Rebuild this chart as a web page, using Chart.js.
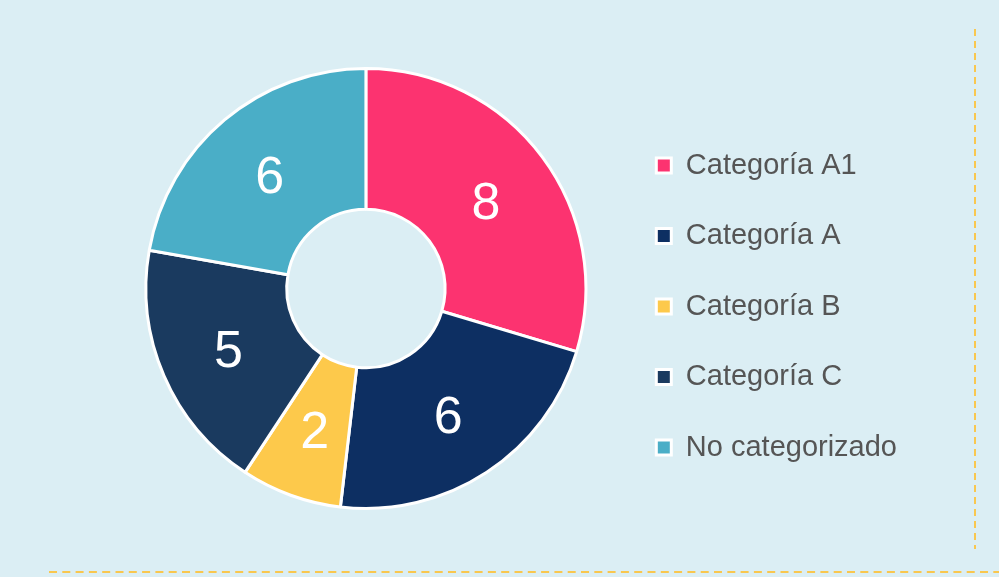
<!DOCTYPE html>
<html>
<head>
<meta charset="utf-8">
<script src="https://cdn.jsdelivr.net/npm/chart.js@4.4.1/dist/chart.umd.min.js"></script>
<style>
  html, body { margin: 0; padding: 0; background: #dbeef4; }
  #wrap { width: 999px; height: 577px; position: relative; }
</style>
</head>
<body>
<div id="wrap"><canvas id="donut" width="999" height="577"></canvas></div>
<script>
// chart data
const CATEGORIES = ["Categoría A1", "Categoría A", "Categoría B", "Categoría C", "No categorizado"];
const COUNTS = [8, 6, 2, 5, 6];
const SLICE_COLORS = ["#fc3370", "#0d2f62", "#fdc94b", "#1a3a5f", "#4aaec7"];

// white numbers in the middle of each ring segment
const sliceValues = {
  id: "sliceValues",
  afterDatasetsDraw(chart) {
    const ctx = chart.ctx;
    const meta = chart.getDatasetMeta(0);
    ctx.save();
    ctx.fillStyle = "#ffffff";
    ctx.font = "52px 'Liberation Sans', Arial, sans-serif";
    ctx.textAlign = "center";
    ctx.textBaseline = "middle";
    meta.data.forEach((arc, i) => {
      const p = arc.tooltipPosition();
      ctx.fillText(String(chart.data.datasets[0].data[i]), p.x, p.y + 5);
    });
    ctx.restore();
  },
};

// dashed yellow frame lines (right + bottom)
const dashedFrame = {
  id: "dashedFrame",
  beforeDraw(chart) {
    const ctx = chart.ctx;
    ctx.save();
    ctx.strokeStyle = "#f9c74f";
    ctx.lineWidth = 2;
    ctx.setLineDash([7, 5]);
    ctx.beginPath();
    ctx.moveTo(975, 29);
    ctx.lineTo(975, 549);
    ctx.stroke();
    ctx.setLineDash([8, 5.3]);
    ctx.beginPath();
    ctx.moveTo(49, 572);
    ctx.lineTo(999, 572);
    ctx.stroke();
    ctx.restore();
  },
};

new Chart(document.getElementById("donut"), {
  type: "doughnut",
  data: {
    labels: CATEGORIES,
    datasets: [{
      data: COUNTS,
      backgroundColor: SLICE_COLORS,
      borderColor: "#ffffff",
      borderWidth: 3,
      hoverOffset: 0,
    }],
  },
  options: {
    responsive: false,
    animation: false,
    cutout: "36%",
    layout: { padding: { left: 117, right: 92, top: 67, bottom: 67 } },
    plugins: {
      tooltip: { enabled: false },
      legend: {
        position: "right",
        title: { display: true, text: " ", font: { size: 10 }, padding: { top: 24, bottom: 0 } },
        labels: {
          color: "#555555",
          font: { size: 29, family: "'Liberation Sans', Arial, sans-serif" },
          boxWidth: 15,
          boxHeight: 15,
          padding: 41.5,
          generateLabels(chart) {
            return chart.data.labels.map((label, i) => ({
              text: label,
              fillStyle: SLICE_COLORS[i],
              strokeStyle: "#ffffff",
              lineWidth: 3,
              fontColor: "#555555",
              hidden: false,
              index: i,
            }));
          },
        },
      },
    },
  },
  plugins: [dashedFrame, sliceValues],
});
</script>
</body>
</html>
